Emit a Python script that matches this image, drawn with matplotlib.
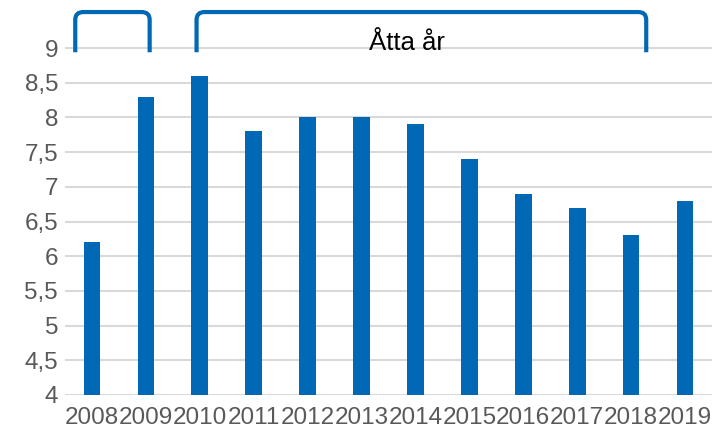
import matplotlib
matplotlib.use("Agg")
import matplotlib.pyplot as plt
from matplotlib.path import Path
from matplotlib.patches import PathPatch

years = ["2008", "2009", "2010", "2011", "2012", "2013",
         "2014", "2015", "2016", "2017", "2018", "2019"]
values = [6.2, 8.3, 8.6, 7.8, 8.0, 8.0, 7.9, 7.4, 6.9, 6.7, 6.3, 6.8]
y_ticks = [4, 4.5, 5, 5.5, 6, 6.5, 7, 7.5, 8, 8.5, 9]
bracket_label = "Åtta år"

blue = "#0068b4"
plt.rcParams["font.family"] = ["Liberation Sans", "DejaVu Sans"]

fig = plt.figure(figsize=(7.12, 4.33), dpi=100)
ax = fig.add_axes([0.0913, 0.088, 0.9087, 0.897])

x = list(range(len(years)))
ax.bar(x, values, width=0.31, color=blue, zorder=3)

ax.set_xlim(-0.5, len(years) - 0.5)
ax.set_ylim(4, 9.6)
ax.set_yticks(y_ticks)
ax.set_yticklabels([f"{t:g}".replace(".", ",") for t in y_ticks])
ax.set_xticks(x)
ax.set_xticklabels(years)
ax.tick_params(axis="both", length=0, labelsize=17.5, colors="#595959")
ax.tick_params(axis="x", pad=9)
ax.tick_params(axis="y", pad=5)
ax.grid(axis="y", color="#d9d9d9", linewidth=1.5, zorder=0)
for s in ax.spines.values():
    s.set_visible(False)


def bracket(x0, x1, y0, y1, rx=0.15, ry=0.11):
    verts = [(x0, y0), (x0, y1 - ry), (x0, y1), (x0 + rx, y1),
             (x1 - rx, y1), (x1, y1), (x1, y1 - ry), (x1, y0)]
    codes = [Path.MOVETO, Path.LINETO, Path.CURVE3, Path.CURVE3,
             Path.LINETO, Path.CURVE3, Path.CURVE3, Path.LINETO]
    p = PathPatch(Path(verts, codes), fill=False, edgecolor=blue,
                  linewidth=3, capstyle="butt", clip_on=False, zorder=4)
    ax.add_patch(p)


bracket(-0.31, 1.07, 8.94, 9.52)
bracket(1.94, 10.28, 8.94, 9.52)
ax.text(5.85, 9.08, bracket_label, ha="center", va="center",
        fontsize=18.5, color="black", zorder=5)

fig.savefig("out.png", dpi=100)
